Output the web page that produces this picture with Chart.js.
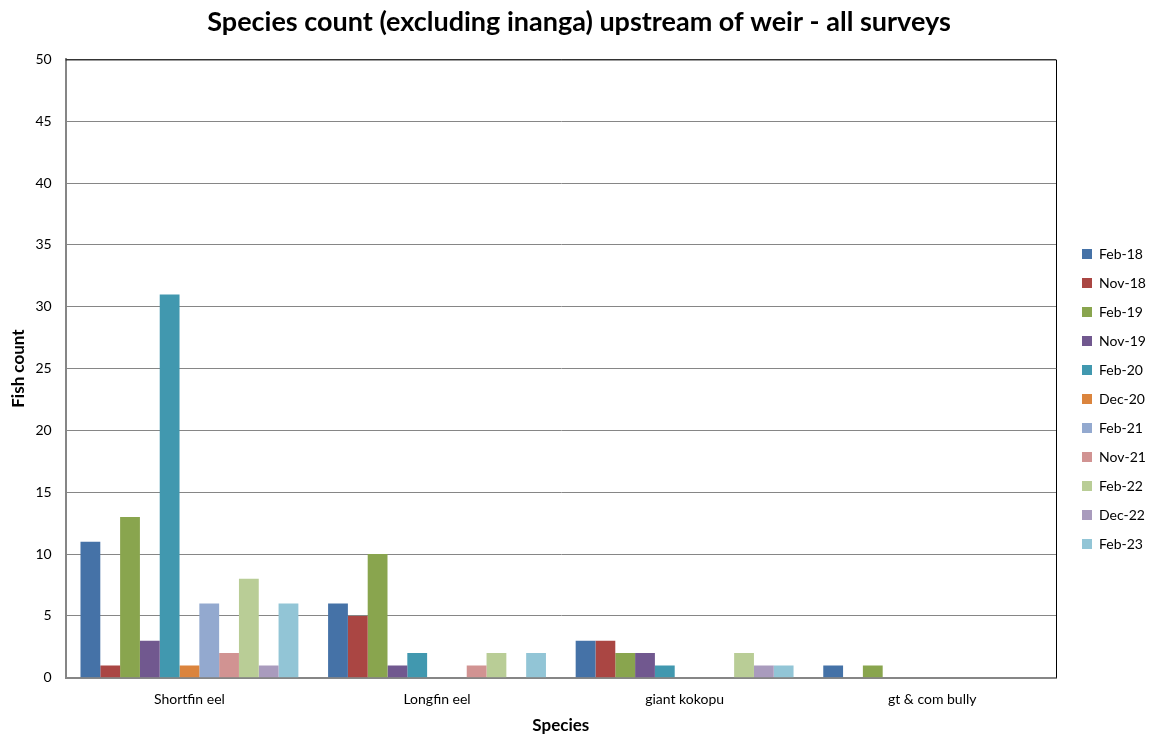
<!DOCTYPE html>
<html>
<head>
<meta charset="utf-8">
<script src="https://cdn.jsdelivr.net/npm/chart.js@4.4.1/dist/chart.umd.min.js"></script>
<style>
  html, body { margin: 0; padding: 0; background: #ffffff; }
  #wrap { width: 1150px; height: 736px; position: relative; }
</style>
</head>
<body>
<div id="wrap"><canvas id="c" width="1150" height="736"></canvas></div>
<script>
// Fish species counted upstream of the weir, one series per survey
const species = ['Shortfin eel', 'Longfin eel', 'giant kokopu', 'gt & com bully'];
const surveys = ['Feb-18', 'Nov-18', 'Feb-19', 'Nov-19', 'Feb-20', 'Dec-20', 'Feb-21', 'Nov-21', 'Feb-22', 'Dec-22', 'Feb-23'];
const feb18 = [11, 6, 3, 1];
const nov18 = [1, 5, 3, 0];
const feb19 = [13, 10, 2, 1];
const nov19 = [3, 1, 2, 0];
const feb20 = [31, 2, 1, 0];
const dec20 = [1, 0, 0, 0];
const feb21 = [6, 0, 0, 0];
const nov21 = [2, 1, 0, 0];
const feb22 = [8, 2, 2, 0];
const dec22 = [1, 0, 1, 0];
const feb23 = [6, 2, 1, 0];
const yTicks = [0, 5, 10, 15, 20, 25, 30, 35, 40, 45, 50];

const seriesValues = [feb18, nov18, feb19, nov19, feb20, dec20, feb21, nov21, feb22, dec22, feb23];
const palette = ['#4572A7', '#AA4643', '#89A54E', '#71588F', '#4198AF', '#DB843D',
                 '#93A9CF', '#D19392', '#B9CD96', '#A99BBD', '#92C5D6'];

const FONT = 'Lato, "Liberation Sans", sans-serif';

// Frame around the plotting area
const plotFrame = {
  id: 'plotFrame',
  afterDraw(chart) {
    const { ctx, chartArea: a } = chart;
    ctx.save();
    ctx.strokeStyle = '#000000';
    ctx.lineWidth = 1;
    ctx.beginPath();
    ctx.moveTo(a.left, a.top + 0.5);
    ctx.lineTo(a.right + 0.5, a.top + 0.5);
    ctx.lineTo(a.right + 0.5, a.bottom);
    ctx.stroke();
    ctx.restore();
  }
};

// Fixed-width legend column, nudged right and down from its default spot
const legendPlacement = {
  id: 'legendPlacement',
  beforeInit(chart) {
    const lg = chart.legend;
    const origFit = lg.fit;
    lg.fit = function () {
      origFit.call(this);
      this.width = 94;
    };
  },
  afterLayout(chart) {
    const lg = chart.legend;
    const dx = 11, dy = 31;
    lg.left += dx; lg.right += dx;
    lg.top += dy; lg.bottom += dy;
  }
};

new Chart(document.getElementById('c'), {
  type: 'bar',
  data: {
    labels: species,
    datasets: surveys.map((name, i) => ({
      label: name,
      data: seriesValues[i],
      backgroundColor: palette[i],
      borderWidth: 0,
      categoryPercentage: 0.88,
      barPercentage: 1.0
    }))
  },
  options: {
    responsive: false,
    animation: false,
    layout: { padding: { top: 0, right: 0, bottom: 0, left: 8 } },
    plugins: {
      title: {
        display: true,
        text: 'Species count (excluding inanga) upstream of weir - all surveys',
        color: '#000000',
        font: { family: FONT, size: 27, weight: 'bold' },
        padding: { top: 6, bottom: 21 }
      },
      legend: {
        position: 'right',
        align: 'center',
        labels: {
          color: '#000000',
          font: { family: FONT, size: 14 },
          boxWidth: 10,
          boxHeight: 10,
          padding: 15,
          useBorderRadius: false
        }
      },
      tooltip: { enabled: false }
    },
    scales: {
      x: {
        grid: { display: false, drawTicks: false },
        border: { color: '#868686', width: 2 },
        ticks: {
          color: '#000000',
          font: { family: FONT, size: 14 },
          padding: 13
        },
        title: {
          display: true,
          text: 'Species',
          color: '#000000',
          font: { family: FONT, size: 17, weight: 'bold' },
          padding: { top: -5, bottom: 0 }
        }
      },
      y: {
        min: 0,
        max: 50,
        afterBuildTicks(axis) { axis.ticks = yTicks.map(v => ({ value: v })); },
        grid: { color: '#868686', lineWidth: 1, drawTicks: false },
        border: { color: '#868686', width: 2 },
        ticks: {
          color: '#000000',
          font: { family: FONT, size: 14 },
          padding: 14
        },
        title: {
          display: true,
          text: 'Fish count',
          color: '#000000',
          font: { family: FONT, size: 17, weight: 'bold' },
          padding: { top: 0, bottom: -7 }
        }
      }
    }
  },
  plugins: [plotFrame, legendPlacement]
});
</script>
</body>
</html>
